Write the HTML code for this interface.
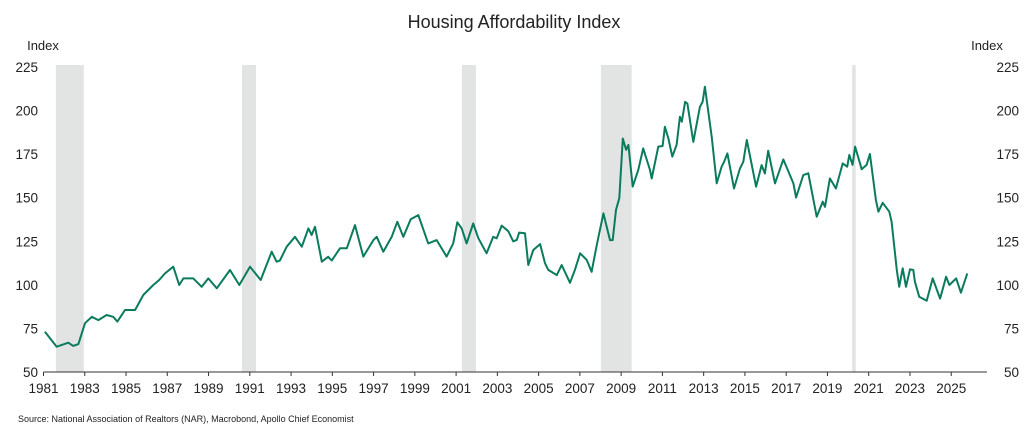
<!DOCTYPE html>
<html><head><meta charset="utf-8">
<style>
html,body{margin:0;padding:0;background:#fff;}
svg{display:block;font-family:"Liberation Sans","DejaVu Sans",sans-serif;}
</style></head>
<body>
<svg id="chart" width="1029" height="438" viewBox="0 0 1029 438">
<text x="514" y="28" text-anchor="middle" font-size="18" fill="#222">Housing Affordability Index</text>
<text x="43" y="50" text-anchor="middle" font-size="13" fill="#222">Index</text>
<text x="987" y="50" text-anchor="middle" font-size="13" fill="#222">Index</text>
<g id="bands"></g>
<g id="axes"></g>
<g id="series"></g>
<text x="18" y="422" font-size="9" fill="#222">Source: National Association of Realtors (NAR), Macrobond, Apollo Chief Economist</text>
</svg>
<script>
const years = [1981.07,1981.64,1982.20,1982.44,1982.69,1983.01,1983.34,1983.66,1984.06,1984.38,1984.58,1984.95,1985.44,1985.84,1986.32,1986.61,1986.89,1987.29,1987.58,1987.78,1988.26,1988.67,1988.99,1989.40,1990.04,1990.49,1991.01,1991.53,1992.06,1992.30,1992.46,1992.79,1993.19,1993.52,1993.84,1994.00,1994.16,1994.49,1994.80,1994.97,1995.37,1995.70,1996.10,1996.50,1996.99,1997.15,1997.47,1997.88,1998.15,1998.44,1998.80,1999.17,1999.65,2000.06,2000.54,2000.86,2001.06,2001.27,2001.51,2001.83,2002.08,2002.48,2002.80,2002.97,2003.21,2003.53,2003.77,2003.94,2004.06,2004.34,2004.50,2004.74,2005.07,2005.31,2005.47,2005.88,2006.12,2006.52,2006.76,2007.01,2007.33,2007.57,2007.82,2008.14,2008.46,2008.59,2008.75,2008.91,2009.08,2009.24,2009.35,2009.56,2009.83,2010.07,2010.40,2010.48,2010.80,2011.01,2011.12,2011.29,2011.48,2011.69,2011.85,2011.94,2012.10,2012.21,2012.50,2012.82,2012.95,2013.06,2013.39,2013.63,2013.87,2013.99,2014.15,2014.47,2014.76,2014.92,2015.09,2015.54,2015.81,2015.97,2016.13,2016.46,2016.86,2017.35,2017.48,2017.83,2018.07,2018.48,2018.77,2018.88,2019.12,2019.41,2019.74,2019.96,2020.06,2020.22,2020.34,2020.66,2020.90,2021.06,2021.35,2021.47,2021.68,2022.00,2022.11,2022.36,2022.48,2022.65,2022.81,2023.00,2023.16,2023.24,2023.45,2023.81,2024.10,2024.46,2024.75,2024.91,2025.24,2025.47,2025.78];
const values = [73.1,64.5,66.8,65,66,78,81.7,79.8,82.7,81.7,78.9,85.6,85.6,94.2,99.9,102.8,106.6,110.4,99.9,103.7,103.7,98.9,103.7,98,108.5,99.9,110.4,102.8,119,113.3,114,121.9,127.6,121.9,132.4,128.6,133.3,113.3,116.1,114,121,121,134.3,116.2,125.7,127.6,119,127.6,136.2,127.6,137.6,140,123.8,125.7,116.2,123.8,135.9,132.4,123.8,135.2,126.7,118.1,127.6,126.7,134,130.8,125,125.8,130,129.6,111.4,120,123.4,112.4,108.6,105.6,111.4,101.2,108.6,118.1,114.3,107.5,122.9,141,125.7,125.7,143,149.7,184,177.5,180.3,156.4,166,178.3,165.9,161,179.3,179.7,190.7,184,173.6,180.3,196.5,193.6,205,204,182,202.1,205,213.7,185,158.2,167.8,170.6,175.4,155.3,166.8,170.6,183.1,156.3,168.7,163.9,177,158.2,172,158.2,150.1,163,164,139.1,147.7,144.8,161.1,155.3,169.7,167.8,174.5,168.8,179.3,166.3,168.8,175.1,148.7,142,147.1,142,136.2,108.5,98.9,109.5,98.9,108.9,108.5,101.8,93.2,90.9,103.7,92.1,104.7,99.9,103.7,95.5,106.6];
const recessionStarts = [1981.6,1990.62,2001.28,2008.02,2020.2];
const recessionEnds = [1982.95,1991.3,2001.96,2009.51,2020.37];
const xTickLabels = [1981,1983,1985,1987,1989,1991,1993,1995,1997,1999,2001,2003,2005,2007,2009,2011,2013,2015,2017,2019,2021,2023,2025];
const yTickLabels = [50,75,100,125,150,175,200,225];

const NS='http://www.w3.org/2000/svg';
const X0=43.5, PX=20.63, Y0=372, PY=305/175;
function xs(yr){return X0+(yr-1981)*PX;}
function ys(v){return Y0-(v-50)*PY;}
function mk(tag,attrs,parent){const e=document.createElementNS(NS,tag);for(const k in attrs)e.setAttribute(k,attrs[k]);parent.appendChild(e);return e;}

const bands=document.getElementById('bands');
recessionStarts.forEach((s,i)=>{
  const r=mk('rect',{x:xs(s),y:ys(225)-2,width:xs(recessionEnds[i])-xs(s),height:Y0-ys(225)+2,fill:'#e2e3e3'},bands);
  
  
});

const axes=document.getElementById('axes');
const ax=mk('line',{x1:43.5,x2:987,y1:Y0,y2:Y0,stroke:'#333','stroke-width':1},axes);


xTickLabels.forEach(yr=>{
  const x=xs(yr);
  const t=mk('line',{x1:x,x2:x,y1:Y0,y2:Y0+4,stroke:'#333','stroke-width':1},axes);
  
  
  const l=mk('text',{x:x,y:393,'text-anchor':'middle','font-size':13.5,fill:'#222'},axes);
  l.textContent=yr;
  
  
});
yTickLabels.forEach(v=>{
  const y=ys(v)+5;
  const l=mk('text',{x:38,y:y,'text-anchor':'end','font-size':13.5,fill:'#222'},axes);
  l.textContent=v;
  
  
  const r=mk('text',{x:1019,y:y,'text-anchor':'end','font-size':13.5,fill:'#222'},axes);
  r.textContent=v;
  
  
});

const series=document.getElementById('series');
const d=years.map((yr,i)=>(i?'L':'M')+xs(yr).toFixed(1)+','+ys(values[i]).toFixed(1)).join(' ');
const p=mk('path',{d:d,fill:'none',stroke:'#0b7b5e','stroke-width':2,'stroke-linejoin':'round'},series);


</script>
</body></html>
